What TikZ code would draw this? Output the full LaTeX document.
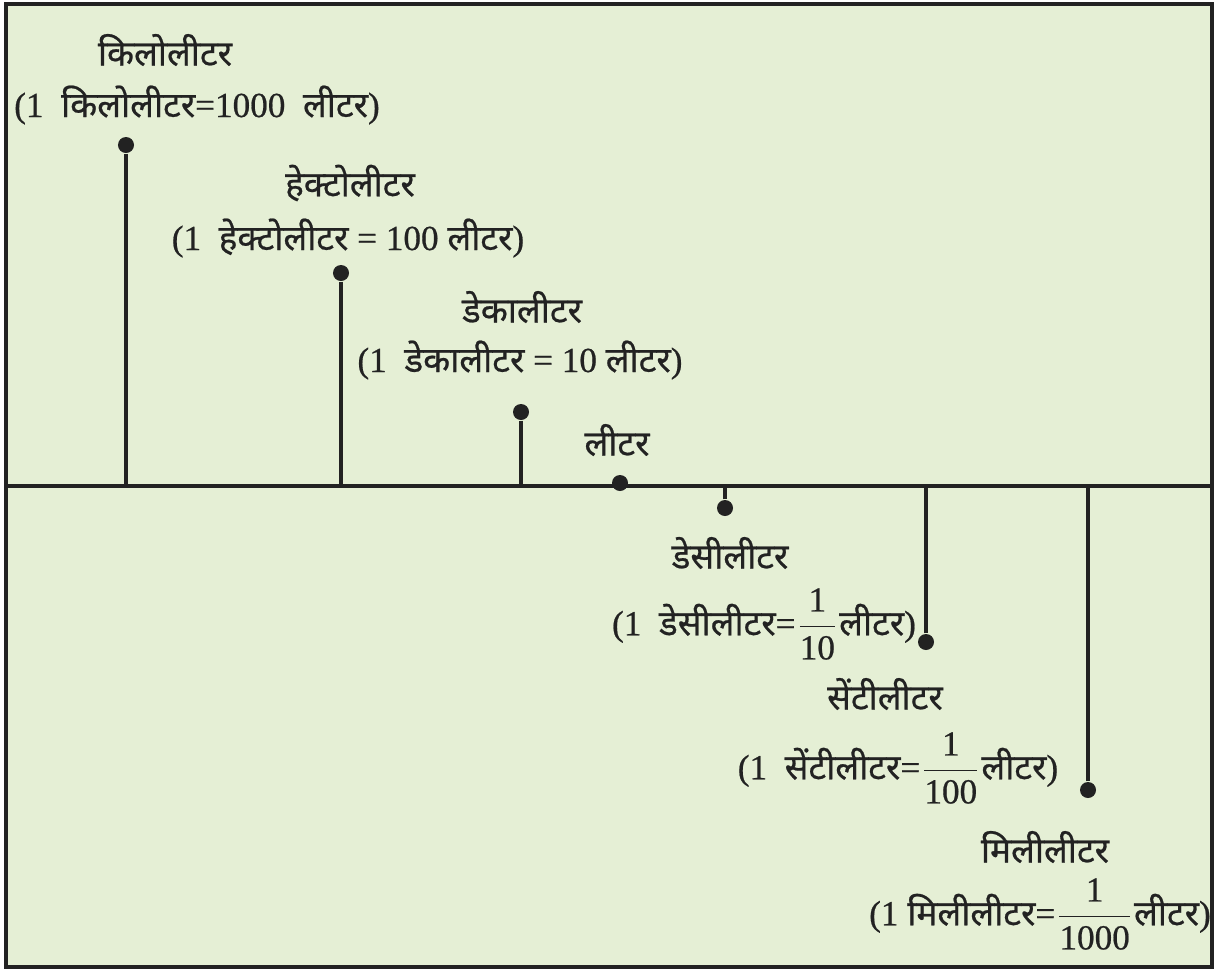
\documentclass[tikz,border=0pt]{standalone}
\usepackage{fontspec}
\setmainfont{Liberation Serif}[FakeBold=0.6]
\newfontfamily\deva[Script=Devanagari,FakeBold=0.6]{Noto Sans}
\newcommand{\dv}[1]{{\deva #1}}
\newcommand{\fr}[2]{$\dfrac{\mbox{#1}}{\mbox{#2}}$}
\usepackage{amsmath}
\definecolor{paper}{RGB}{229,239,213}
\definecolor{ink}{RGB}{34,34,34}
\begin{document}
\begin{tikzpicture}[x=0.01cm,y=-0.01cm,
    dot/.style={circle,fill=ink,inner sep=0pt,minimum size=0.16cm},
    lbl/.style={inner sep=0pt,font=\fontsize{10}{12}\selectfont,text=ink},
    stem/.style={draw=ink,line width=0.9pt}]
    \useasboundingbox (0,0) rectangle (1215,969);
    \draw[fill=paper,draw=ink,line width=0.9pt] (6,4) rectangle (1212,967);

    \coordinate (W) at (6,486);
    \coordinate (E) at (1212,486);
    \draw[stem] (W) -- (E);

    % above the line
    \node[dot] (K) at (126,145) {};
    \coordinate (K0) at (126,486);
    \node[lbl] (K1) at (165,50) {\dv{किलोलीटर}};
    \node[lbl] (K2) at (197,105) {(1\ \ \dv{किलोलीटर}=1000\ \ \dv{लीटर})};
    \draw[stem] (K) -- (K0);

    \node[dot] (H) at (341,273) {};
    \coordinate (H0) at (341,486);
    \node[lbl] (H1) at (350,183) {\dv{हेक्टोलीटर}};
    \node[lbl] (H2) at (348,238) {(1\ \ \dv{हेक्टोलीटर} = 100 \dv{लीटर})};
    \draw[stem] (H) -- (H0);

    \node[dot] (D) at (521,412) {};
    \coordinate (D0) at (521,486);
    \node[lbl] (D1) at (522,307) {\dv{डेकालीटर}};
    \node[lbl] (D2) at (520,360) {(1\ \ \dv{डेकालीटर} = 10 \dv{लीटर})};
    \draw[stem] (D) -- (D0);

    \node[dot] (L) at (620,483) {};
    \node[lbl] (L1) at (617,440) {\dv{लीटर}};

    % below the line
    \node[dot] (d) at (725,508) {};
    \coordinate (d0) at (725,486);
    \node[lbl] (d1) at (730,553) {\dv{डेसीलीटर}};
    \node[lbl] (d2) at (764,624) {(1\ \ \dv{डेसीलीटर}=\fr{1}{10}\dv{लीटर})};
    \draw[stem] (d) -- (d0);

    \node[dot] (c) at (926,642) {};
    \coordinate (c0) at (926,486);
    \node[lbl] (c1) at (885,694) {\dv{सेंटीलीटर}};
    \node[lbl] (c2) at (898,768) {(1\ \ \dv{सेंटीलीटर}=\fr{1}{100}\dv{लीटर})};
    \draw[stem] (c) -- (c0);

    \node[dot] (m) at (1088,790) {};
    \coordinate (m0) at (1088,486);
    \node[lbl] (m1) at (1045,847) {\dv{मिलीलीटर}};
    \node[lbl] (m2) at (1040,914) {(1 \dv{मिलीलीटर}=\fr{1}{1000}\dv{लीटर})};
    \draw[stem] (m) -- (m0);
\end{tikzpicture}
\end{document}
